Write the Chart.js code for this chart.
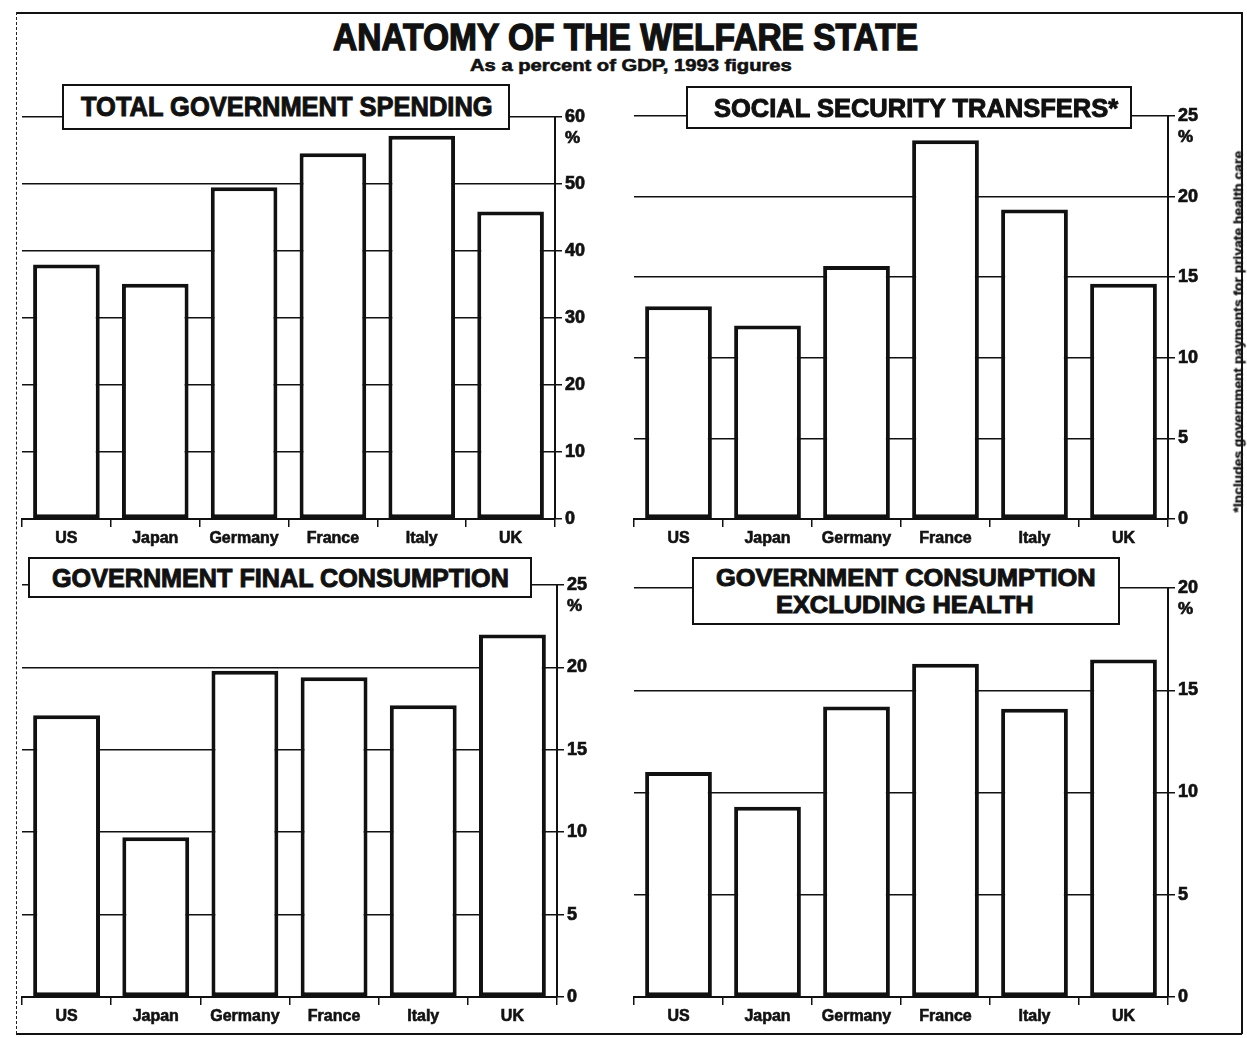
<!DOCTYPE html>
<html>
<head>
<meta charset="utf-8">
<title>Anatomy of the welfare state</title>
<script src="https://cdn.jsdelivr.net/npm/chart.js@4"></script>
<style>
  body { margin: 0; background: #fff; }
  #page { position: relative; width: 1247px; height: 1038px; overflow: hidden; background: #fff; }
  .panel { position: absolute; }
  .box { position: absolute; background: #fff; border: 2.5px solid #111; box-sizing: border-box; }
  .txt { position: absolute; white-space: nowrap; font-family: "Liberation Sans", Arial, sans-serif;
         font-weight: bold; color: #111; transform-origin: left center; -webkit-text-stroke: 0.6px #111; }
  .frame { position: absolute; }
</style>
</head>
<body>
<div id="page">
  <div class="frame" style="left:16px;top:12px;width:1226px;height:0;border-top:2px solid #111"></div>
  <div class="frame" style="left:16px;top:1033px;width:1226px;height:0;border-top:2px solid #111"></div>
  <div class="frame" style="left:16px;top:12px;width:0;height:1022px;border-left:1.5px dashed #222"></div>
  <div class="frame" style="left:1241px;top:12px;width:0;height:1022px;border-left:2px solid #111"></div>

  <div class="panel" style="left:0;top:80px"><canvas id="spending" width="620" height="480"></canvas></div>
  <div class="panel" style="left:620px;top:80px"><canvas id="transfers" width="627" height="480"></canvas></div>
  <div class="panel" style="left:0;top:550px"><canvas id="consumption" width="620" height="488"></canvas></div>
  <div class="panel" style="left:620px;top:550px"><canvas id="exHealth" width="627" height="488"></canvas></div>

  <div class="box" style="left:62px;top:84px;width:448px;height:46px"></div>
  <div class="box" style="left:686px;top:86px;width:446px;height:43px"></div>
  <div class="box" style="left:28px;top:557px;width:504px;height:41px"></div>
  <div class="box" style="left:692px;top:557px;width:428px;height:68px"></div>
</div>

<script>
// values read as percent of GDP, 1993
const countries = ['US', 'Japan', 'Germany', 'France', 'Italy', 'UK'];
const totalSpending = [38, 35.1, 49.5, 54.6, 57.2, 45.9];
const socialTransfers = [13.2, 12, 15.7, 23.5, 19.2, 14.6];
const finalConsumption = [17.1, 9.7, 19.8, 19.4, 17.7, 22];
const consumptionExHealth = [11, 9.3, 14.2, 16.3, 14.1, 16.5];

const spendingTicks = { max: 60, step: 10 };
const transferTicks = { max: 25, step: 5 };
const consumptionTicks = { max: 25, step: 5 };
const exHealthTicks = { max: 20, step: 5 };

const fontFamily = '"Liberation Sans", Arial, sans-serif';
const ink = '#111';

// draws the "%" under the top tick of the value axis
const unitLabel = {
  id: 'unitLabel',
  afterDraw(chart) {
    const ctx = chart.ctx;
    const area = chart.chartArea;
    ctx.save();
    ctx.font = 'bold 17px ' + fontFamily;
    ctx.fillStyle = ink;
    ctx.strokeStyle = ink;
    ctx.lineWidth = 0.7;
    ctx.textAlign = 'left';
    ctx.textBaseline = 'middle';
    ctx.fillText('%', area.right + 10, area.top + 21);
    ctx.strokeText('%', area.right + 10, area.top + 21);
    ctx.restore();
  }
};

function makePanel(id, values, ticks, padLeft, padTop, axisWidth) {
  return new Chart(document.getElementById(id), {
    type: 'bar',
    data: {
      labels: countries,
      datasets: [{
        data: values,
        backgroundColor: '#fff',
        borderColor: ink,
        borderWidth: 4,
        borderSkipped: false,
        barPercentage: 0.75,
        categoryPercentage: 1
      }]
    },
    options: {
      responsive: false,
      animation: false,
      layout: { padding: { left: padLeft, top: padTop, right: 0, bottom: 0 } },
      plugins: { legend: { display: false }, tooltip: { enabled: false } },
      scales: {
        x: {
          grid: { offset: true, drawOnChartArea: false, color: ink, lineWidth: 1.5, tickLength: 8 },
          border: { display: true, color: ink, width: 2 },
          ticks: {
            color: ink, font: { family: fontFamily, weight: 'bold', size: 16 }, padding: 2,
            textStrokeColor: ink, textStrokeWidth: 0.6
          },
          afterFit(scale) { scale.height = 41; }
        },
        y: {
          position: 'right',
          min: 0,
          max: ticks.max,
          ticks: {
            stepSize: ticks.step, color: ink, font: { family: fontFamily, weight: 'bold', size: 18 }, padding: 3,
            textStrokeColor: ink, textStrokeWidth: 0.7
          },
          grid: { color: ink, lineWidth: 1.5, tickLength: 7 },
          border: { display: true, color: ink, width: 2 },
          afterFit(scale) { scale.width = axisWidth; }
        }
      }
    },
    plugins: [unitLabel]
  });
}

makePanel('spending', totalSpending, spendingTicks, 22, 37, 65);
makePanel('transfers', socialTransfers, transferTicks, 14, 36, 79);
makePanel('consumption', finalConsumption, consumptionTicks, 22, 35, 63);
makePanel('exHealth', consumptionExHealth, exHealthTicks, 14, 38, 79);

// headline text, squeezed to the width of the condensed type
const page = document.getElementById('page');
function placeText(str, x0, x1, yc, size, stroke) {
  const el = document.createElement('span');
  el.className = 'txt';
  el.textContent = str;
  el.style.fontSize = size + 'px';
  el.style.lineHeight = size + 'px';
  el.style.left = x0 + 'px';
  el.style.top = (yc - size * 0.49) + 'px';
  if (stroke !== undefined) el.style.webkitTextStroke = stroke + 'px #111';
  page.appendChild(el);
  el.style.transform = 'scaleX(' + ((x1 - x0) / el.offsetWidth) + ')';
  return el;
}

placeText('ANATOMY OF THE WELFARE STATE', 333, 918, 37, 37, 1.4);
placeText('As a percent of GDP, 1993 figures', 470, 792, 65, 17, 0.6);
placeText('TOTAL GOVERNMENT SPENDING', 81, 493, 107, 27, 1);
placeText('SOCIAL SECURITY TRANSFERS*', 714, 1118, 108, 26, 1);
placeText('GOVERNMENT FINAL CONSUMPTION', 52, 509, 578, 26, 1);
placeText('GOVERNMENT CONSUMPTION', 716, 1096, 578, 24, 1);
placeText('EXCLUDING HEALTH', 776, 1034, 605, 24, 1);

// footnote set vertically beside the transfers panel
const note = placeText('*Includes government payments for private health care', 0, 362, 0, 13, 0.3);
note.style.transform = 'translate(1238px, 512px) rotate(-90deg) scaleX(' + (362 / note.offsetWidth) + ')';
note.style.left = '0px';
note.style.top = '-6px';
note.style.transformOrigin = 'left center';
</script>
</body>
</html>
